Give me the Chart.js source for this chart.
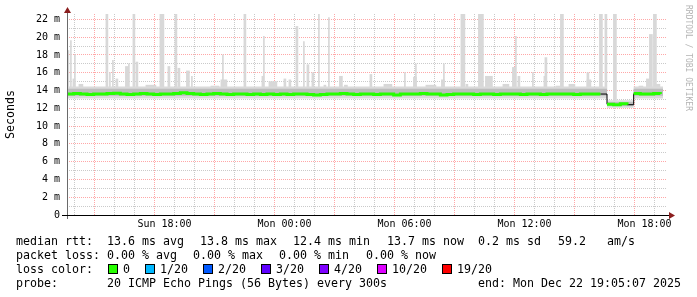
<!DOCTYPE html>
<html>
<head>
<meta charset="utf-8">
<script src="https://cdn.jsdelivr.net/npm/chart.js@4.4.1/dist/chart.umd.min.js"></script>
<style>
body { margin: 0; background: #fff; }
#wrap { position: relative; width: 697px; height: 297px; overflow: hidden; }
canvas { position: absolute; left: 0; top: 0; }
.txt { position: absolute; margin: 0; font: 11.63px 'DejaVu Sans Mono', monospace; line-height: 14px; height: 14px; color: #000; white-space: pre; }
#lossRow { display: flex; align-items: center; left: 16px; }
.box { display: inline-block; width: 8px; height: 8px; border: 1px solid #000; margin-left: 15px; margin-right: 5px; }
.side { position: absolute; left: 684px; top: 5px; writing-mode: vertical-rl; font: 8px 'DejaVu Sans Mono', monospace; line-height: 8px; color: #b4b4b4; }
</style>
</head>
<body>
<div id="wrap">
<canvas id="chart" width="697" height="297"></canvas>
<div class="side">RRDTOOL / TOBI OETIKER</div>
<div class="txt" id="lossRow" style="top:262px"></div>
</div>
<script>
'use strict'

// x axis is hours since Sun 00:00
const startHour = 13.125;
const endHour = 43.125;

// median rtt (ms), one value every 20 minutes from startHour
const medianStepMin = 20;
const medianMs = [
    13.6, 13.65, 13.6, 13.55, 13.6, 13.6, 13.65, 13.7, 13.6, 13.55,
    13.6, 13.65, 13.6, 13.55, 13.6, 13.6, 13.65, 13.75, 13.65, 13.6,
    13.55, 13.6, 13.65, 13.6, 13.55, 13.6, 13.6, 13.55, 13.6, 13.55,
    13.6, 13.55, 13.6, 13.55, 13.6, 13.6, 13.55, 13.5, 13.55, 13.6,
    13.6, 13.65, 13.6, 13.55, 13.6, 13.6, 13.55, 13.6, 13.6, 13.5,
    13.6, 13.6, 13.6, 13.65, 13.6, 13.6, 13.5, 13.55, 13.6, 13.6,
    13.6, 13.55, 13.6, 13.6, 13.55, 13.6, 13.6, 13.6, 13.55, 13.6,
    13.6, 13.55, 13.6, 13.6, 13.6, 13.6, 13.55, 13.6, 13.6, 13.6,
    13.6, 12.45, 12.4, 12.5, 12.4, 13.65, 13.6, 13.6, 13.65, 13.6
];

// smoke band around the median; each value holds until the next time
const bandTimes = [13.125, 40.125, 41.458, 42.925];
const smokeLightLow = [13.1, 12.05, 13.1, 13.1];
const smokeLightHigh = [14.45, 12.9, 14.45, 14.45];
const smokeDarkLow = [13.4, 12.25, 13.4, 13.4];
const smokeDarkHigh = [14.2, 12.7, 14.2, 14.2];

// smoke spikes: [hour, low ms, high ms, duration minutes]
const spikes = [
    [13.17, 13.5, 18.5, 6], [13.32, 13.5, 19.6, 3], [13.47, 13.5, 15.3, 6], [13.52, 13.5, 18.0, 3],
    [13.82, 13.5, 14.7, 12], [15.12, 13.5, 22.6, 6], [15.27, 13.5, 16.0, 3], [15.42, 13.5, 17.4, 3],
    [15.62, 13.5, 15.3, 6], [16.12, 13.5, 16.7, 9], [16.22, 13.5, 17.0, 3], [16.47, 13.5, 22.6, 6],
    [16.62, 13.5, 17.2, 6], [17.32, 13.5, 14.6, 30], [17.87, 13.5, 22.6, 12], [18.22, 13.5, 16.7, 6],
    [18.57, 13.5, 22.6, 6], [18.72, 13.5, 16.5, 6], [19.17, 13.5, 16.2, 9], [19.37, 13.5, 15.6, 3],
    [20.52, 13.5, 14.5, 24], [20.92, 13.5, 18.0, 3], [20.97, 13.5, 15.2, 18], [22.02, 13.5, 22.6, 6],
    [22.97, 13.5, 20.1, 3], [22.92, 13.5, 15.6, 6], [23.42, 13.5, 15.0, 24], [24.02, 13.5, 15.3, 6],
    [24.27, 13.5, 15.2, 6], [24.62, 13.5, 21.2, 6], [24.97, 13.5, 19.5, 3], [25.17, 13.5, 16.9, 6],
    [25.42, 13.5, 16.0, 6], [25.72, 13.5, 22.6, 3], [26.02, 13.5, 14.6, 6], [26.22, 13.5, 22.2, 3],
    [26.82, 13.5, 15.6, 9], [27.07, 13.5, 14.6, 9], [28.32, 13.5, 15.8, 6], [29.17, 13.5, 14.7, 24],
    [30.02, 13.5, 16.0, 3], [30.52, 13.5, 15.5, 9], [30.57, 13.5, 17.0, 3], [31.32, 13.5, 14.6, 30],
    [31.92, 13.5, 15.2, 9], [31.97, 13.5, 17.0, 3], [32.92, 13.5, 22.6, 12], [33.12, 13.5, 14.7, 6],
    [33.82, 13.5, 22.6, 15], [34.22, 13.5, 15.6, 21], [35.07, 13.5, 14.7, 18], [35.47, 13.5, 16.6, 9],
    [35.57, 13.5, 20.1, 3], [35.72, 13.5, 15.6, 6], [36.42, 13.5, 16.0, 3], [37.07, 13.5, 17.7, 6],
    [37.02, 13.5, 15.6, 6], [37.67, 13.5, 14.5, 12], [37.87, 13.5, 22.6, 9], [38.37, 13.5, 14.7, 18],
    [39.17, 13.5, 16.0, 6], [39.22, 13.5, 15.2, 12], [39.82, 13.5, 22.6, 9], [40.07, 13.5, 22.6, 6],
    [40.52, 12.3, 22.6, 9], [41.82, 13.5, 14.5, 12], [42.17, 13.5, 15.3, 9], [42.32, 13.5, 20.3, 9],
    [42.52, 13.5, 22.6, 9], [42.67, 13.5, 14.7, 12]
];

const yMax = 22.6;

// legend rows: text pieces and where each one starts (px)
const rttItems = ['median rtt:', '13.6 ms avg', '13.8 ms max', '12.4 ms min', '13.7 ms now', '0.2 ms sd', '59.2', 'am/s'];
const rttX = [16, 107, 200, 293, 387, 478, 558, 607];
const lossItems = ['packet loss:', '0.00 % avg', '0.00 % max', '0.00 % min', '0.00 % now'];
const lossX = [16, 107, 193, 279, 366];
const probeItems = ['probe:', '20 ICMP Echo Pings (56 Bytes) every 300s', 'end: Mon Dec 22 19:05:07 2025'];
const probeX = [16, 107, 478];
const lossLabels = ['0', '1/20', '2/20', '3/20', '4/20', '10/20', '19/20'];
const lossColors = ['#26ff00', '#00b8ff', '#0059ff', '#5e00ff', '#7e00ff', '#dd00ff', '#ff0000'];

const majorGrid = 'rgba(255,95,95,0.55)';
const minorGrid = 'rgba(150,150,150,0.5)';

function addRow(items, xs, top) {
    let wrap = document.getElementById('wrap');
    items.forEach((s, i) => {
        let el = document.createElement('span');
        el.className = 'txt';
        el.style.left = xs[i] + 'px';
        el.style.top = top + 'px';
        el.textContent = s;
        wrap.appendChild(el);
    });
}

function buildLegend() {
    addRow(rttItems, rttX, 234);
    addRow(lossItems, lossX, 248);
    addRow(probeItems, probeX, 276);
    let row = document.getElementById('lossRow');
    let head = document.createElement('span');
    head.textContent = 'loss color:';
    row.appendChild(head);
    lossLabels.forEach((label, i) => {
        let box = document.createElement('span');
        box.className = 'box';
        box.style.background = lossColors[i];
        row.appendChild(box);
        let t = document.createElement('span');
        t.textContent = label;
        row.appendChild(t);
    });
}

const bigStep = ctx => Math.abs(ctx.p0.parsed.y - ctx.p1.parsed.y) > 0.5;

function gridColor(every) {
    return c => {
        if (!c.tick) return minorGrid;
        return Math.round(c.tick.value) % every === 0 ? majorGrid : minorGrid;
    };
}

const axisArrows = {
    id: 'axisArrows',
    afterDatasetsDraw(chart) {
        const ctx = chart.ctx;
        const a = chart.chartArea;
        ctx.save();
        ctx.lineWidth = 1;
        ctx.strokeStyle = '#6a6a6a';
        ctx.beginPath();
        ctx.moveTo(a.left + 0.5, a.top - 2);
        ctx.lineTo(a.left + 0.5, a.bottom + 4);
        ctx.stroke();
        ctx.strokeStyle = '#000';
        ctx.beginPath();
        ctx.moveTo(a.left - 5, a.bottom + 0.5);
        ctx.lineTo(a.right + 3, a.bottom + 0.5);
        ctx.stroke();
        ctx.fillStyle = '#8b1e1e';
        ctx.beginPath();
        ctx.moveTo(a.left + 0.5, a.top - 7);
        ctx.lineTo(a.left - 3, a.top - 1);
        ctx.lineTo(a.left + 4, a.top - 1);
        ctx.fill();
        ctx.beginPath();
        ctx.moveTo(a.right + 8, a.bottom + 0.5);
        ctx.lineTo(a.right + 2, a.bottom - 3);
        ctx.lineTo(a.right + 2, a.bottom + 4);
        ctx.fill();
        ctx.restore();
    }
};

window.onload = function () {
    buildLegend();

    let medianPoints = medianMs.map((v, i) => ({ x: startHour + i * medianStepMin / 60, y: v }));
    let band = arr => bandTimes.map((t, i) => ({ x: t, y: arr[i] }));

    let datasets = [
        {
            data: medianPoints, borderColor: '#26ff00', borderWidth: 3, stepped: 'before',
            pointRadius: 0, fill: false, order: 0,
            segment: { borderColor: c => bigStep(c) ? 'transparent' : undefined }
        },
        {
            data: medianPoints, borderColor: 'transparent', borderWidth: 1, stepped: 'before',
            pointRadius: 0, fill: false, order: 1,
            segment: { borderColor: c => bigStep(c) ? '#000' : undefined }
        },
        { data: band(smokeDarkHigh), stepped: 'before', borderWidth: 0, borderColor: 'transparent', pointRadius: 0, fill: '+1', backgroundColor: '#bdbdbd', order: 3 },
        { data: band(smokeDarkLow), stepped: 'before', borderWidth: 0, borderColor: 'transparent', pointRadius: 0, fill: false, order: 4 },
        { data: band(smokeLightHigh), stepped: 'before', borderWidth: 0, borderColor: 'transparent', pointRadius: 0, fill: '+1', backgroundColor: '#dadada', order: 5 },
        { data: band(smokeLightLow), stepped: 'before', borderWidth: 0, borderColor: 'transparent', pointRadius: 0, fill: false, order: 6 }
    ];

    // one bar dataset per spike duration (1px = 3 minutes at this width)
    let byDur = {};
    spikes.forEach(s => {
        if (!byDur[s[3]]) byDur[s[3]] = [];
        byDur[s[3]].push({ x: s[0], y: [s[1], s[2]] });
    });
    Object.keys(byDur).forEach(d => {
        datasets.push({
            type: 'bar', data: byDur[d], backgroundColor: '#d8d8d8', borderWidth: 0,
            barThickness: Math.max(1, Math.round(d / 3)), grouped: false, order: 10
        });
    });

    new Chart(document.getElementById('chart'), {
        type: 'line',
        data: { datasets: datasets },
        options: {
            responsive: false,
            animation: false,
            devicePixelRatio: 1,
            events: [],
            layout: { padding: { left: 0, right: 30, top: 14, bottom: 0 } },
            plugins: { legend: { display: false }, tooltip: { enabled: false } },
            scales: {
                x: {
                    type: 'linear', min: startHour, max: endHour, offset: false,
                    afterBuildTicks: s => {
                        let t = [];
                        for (let h = Math.ceil(s.min); h <= Math.floor(s.max); h++) t.push({ value: h });
                        s.ticks = t;
                    },
                    afterFit: s => { s.height = 82; },
                    grid: { drawTicks: false, color: gridColor(3) },
                    border: { display: false, dash: [1, 1] },
                    ticks: {
                        autoSkip: false, maxRotation: 0, padding: 3, color: '#000',
                        font: { family: 'DejaVu Sans Mono', size: 10 },
                        callback: v => {
                            v = Math.round(v);
                            if (v % 6 !== 0) return '';
                            return (v < 24 ? 'Sun ' : 'Mon ') + String(v % 24).padStart(2, '0') + ':00';
                        }
                    }
                },
                y: {
                    min: 0, max: yMax,
                    afterBuildTicks: s => {
                        let t = [];
                        for (let v = 0; v <= Math.floor(s.max); v++) t.push({ value: v });
                        s.ticks = t;
                    },
                    afterFit: s => { s.width = 67; },
                    grid: { drawTicks: false, color: gridColor(2) },
                    border: { display: false, dash: [1, 1] },
                    ticks: {
                        autoSkip: false, padding: 7, color: '#000',
                        font: { family: 'DejaVu Sans Mono', size: 10 },
                        callback: v => {
                            v = Math.round(v);
                            if (v % 2 !== 0) return '';
                            return v === 0 ? '0' : v + ' m';
                        }
                    },
                    title: {
                        display: true, text: 'Seconds', color: '#000',
                        font: { family: 'DejaVu Sans Mono', size: 11.63 },
                        padding: { top: 4, bottom: 0 }
                    }
                }
            }
        },
        plugins: [axisArrows]
    });
};
</script>
</body>
</html>
